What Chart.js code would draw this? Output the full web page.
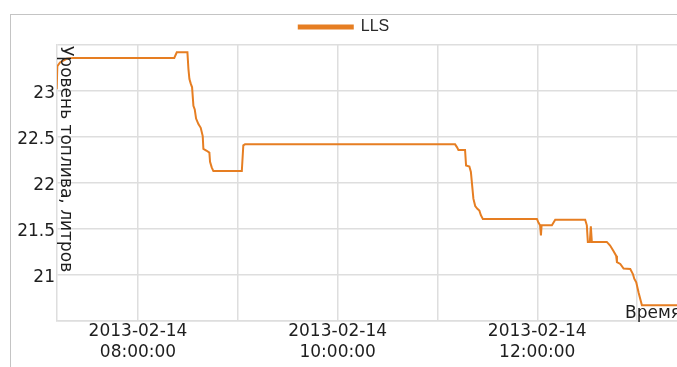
<!DOCTYPE html>
<html lang="ru">
<head>
    <meta charset="UTF-8">
    <title>Уровень топлива</title>
    <script src="https://cdn.jsdelivr.net/npm/chart.js"></script>
    <style>
        body {
            margin: 0;
            padding: 0;
            background: #fff;
            overflow: hidden;
        }

        .frame {
            position: absolute;
            left: 10px;
            top: 14px;
            width: 667px;
            height: 353px;
            border-left: 1px solid #c4c4c4;
            border-top: 1px solid #c4c4c4;
        }

        .plot {
            position: absolute;
            left: 11px;
            top: 15px;
            width: 666px;
            height: 352px;
        }
    </style>
</head>
<body>
    <div class="frame"></div>
    <div class="plot"><canvas id="fuelChart"></canvas></div>

    <script>
        // Время замера, минуты от полуночи 2013-02-14
        const times = [431.1, 431.5, 433.1, 437.1, 441.1, 501.8, 503.3, 509.7, 510.3, 510.9,
            511.7, 512.5, 513.3, 514.1, 514.9, 516.3, 517.7, 518.9, 519.3, 521.3,
            522.9, 523.3, 524.3, 525.3, 542.4, 543.3, 544.3, 670.6, 671.7, 672.6,
            676.6, 677.2, 679.2, 680.1, 681.6, 682.7, 684.0, 685.2, 686.1, 687.3,
            719.8, 720.7, 721.7, 722.2, 722.6, 728.8, 730.8, 748.8, 749.8, 750.4,
            751.6, 752.2, 752.8, 761.8, 763.8, 765.8, 767.4, 767.9, 769.9, 771.9,
            775.9, 777.5, 778.3, 779.5, 780.9, 782.9, 806];
        // Уровень топлива по датчику LLS, литры
        const levels = [23.02, 23.27, 23.31, 23.35, 23.36, 23.36, 23.42, 23.42, 23.24, 23.13,
            23.08, 23.04, 22.84, 22.80, 22.70, 22.64, 22.60, 22.51, 22.37, 22.35,
            22.33, 22.23, 22.17, 22.13, 22.13, 22.41, 22.42, 22.42, 22.39, 22.36,
            22.36, 22.19, 22.18, 22.12, 21.83, 21.75, 21.72, 21.70, 21.65, 21.61,
            21.61, 21.57, 21.54, 21.43, 21.54, 21.54, 21.60, 21.60, 21.54, 21.36,
            21.36, 21.53, 21.36, 21.36, 21.32, 21.26, 21.21, 21.14, 21.12, 21.07,
            21.065, 21.01, 20.96, 20.92, 20.81, 20.67, 20.67];
        const seriesName = 'LLS';
        const dateLabel = '2013-02-14';
        const yTicks = [21, 21.5, 22, 22.5, 23];
        const yTitle = 'Уровень топлива, литров';
        const xTitle = 'Время';

        const lineColor = '#e67e22';
        const textColor = '#1e1e1e';
        const gridColor = '#dedede';

        Chart.defaults.font.family = "'DejaVu Sans', sans-serif";
        Chart.defaults.font.size = 17;
        Chart.defaults.color = textColor;

        // подписи осей рисуются внутри области графика
        const axisTitles = {
            id: 'axisTitles',
            afterDraw(chart) {
                const { ctx, chartArea } = chart;
                ctx.save();
                ctx.font = "17px 'DejaVu Sans', sans-serif";
                ctx.fillStyle = textColor;
                ctx.textBaseline = 'alphabetic';
                ctx.textAlign = 'left';

                ctx.save();
                ctx.translate(chartArea.left + 4, chartArea.top + 1);
                ctx.rotate(Math.PI / 2);
                ctx.fillText(yTitle, 0, 0);
                ctx.restore();

                ctx.fillText(xTitle, chartArea.right - 52, chartArea.bottom - 3);
                ctx.restore();
            }
        };

        const pad = n => String(n).padStart(2, '0');

        new Chart(document.getElementById('fuelChart'), {
            type: 'line',
            data: {
                datasets: [{
                    label: seriesName,
                    data: times.map((t, i) => ({ x: t, y: levels[i] })),
                    borderColor: lineColor,
                    backgroundColor: lineColor,
                    borderWidth: 2,
                    pointRadius: 0,
                    tension: 0,
                    fill: false
                }]
            },
            options: {
                responsive: true,
                maintainAspectRatio: false,
                animation: false,
                layout: { padding: 0 },
                plugins: {
                    legend: {
                        labels: {
                            boxWidth: 54,
                            boxHeight: 3,
                            padding: 4,
                            color: '#2a2a2a',
                            font: { family: "'Liberation Sans', Arial, sans-serif", size: 16 }
                        }
                    },
                    tooltip: { enabled: false }
                },
                scales: {
                    x: {
                        type: 'linear',
                        min: 431.3,
                        max: 804,
                        afterFit(scale) { scale.height = 46; },
                        grid: { color: gridColor, lineWidth: 1.5, drawTicks: false },
                        border: { color: gridColor, width: 1.5 },
                        ticks: {
                            stepSize: 60,
                            includeBounds: false,
                            autoSkip: false,
                            maxRotation: 0,
                            padding: 1,
                            font: { lineHeight: 1.18 },
                            callback(value) {
                                if (value % 120 !== 0) return '';
                                return [dateLabel, pad(value / 60) + ':00:00'];
                            }
                        }
                    },
                    y: {
                        min: 20.5,
                        max: 23.5,
                        afterFit(scale) { scale.width = 46; },
                        afterBuildTicks(scale) {
                            scale.ticks = [20.5, ...yTicks, 23.5].map(v => ({ value: v }));
                        },
                        grid: { color: gridColor, lineWidth: 1.5, drawTicks: false },
                        border: { color: gridColor, width: 1.5 },
                        ticks: {
                            padding: 2,
                            labelOffset: 3,
                            callback(value) {
                                return yTicks.includes(value) ? String(value) : '';
                            }
                        }
                    }
                }
            },
            plugins: [axisTitles]
        });
    </script>
</body>
</html>
